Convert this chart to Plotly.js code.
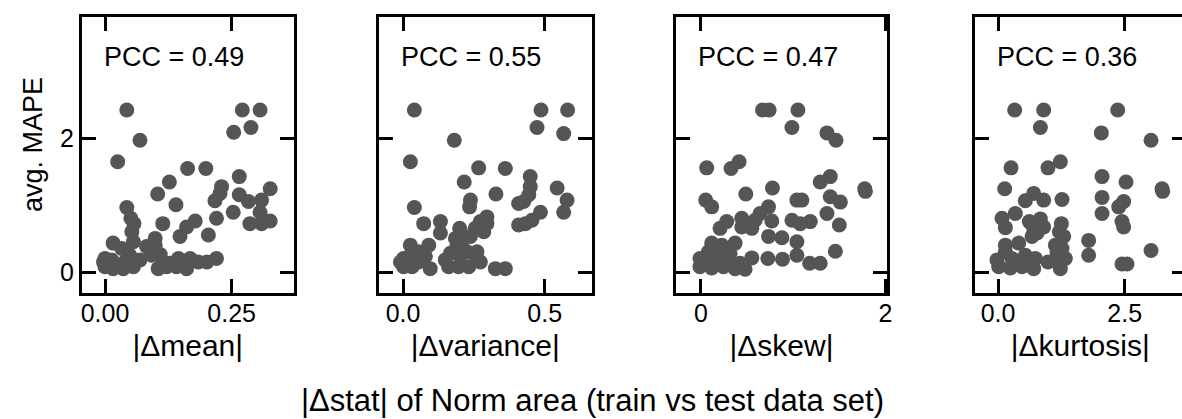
<!DOCTYPE html>
<html>
<head>
<meta charset="utf-8">
<script src="https://cdn.plot.ly/plotly-3.0.1.min.js"></script>
<style>
  html, body { margin: 0; padding: 0; overflow: hidden; background: #fff; }
  #chart { width: 1190px; height: 419px; }
</style>
</head>
<body>
<div id="chart"></div>
<script>
// ---- data ----
const meanX = [0.043,0.271,0.306,0.288,0.254,0.069,0.025,0.163,0.199,0.265,0.127,0.230,0.326,0.104,0.227,0.265,0.283,0.309,0.217,0.043,0.140,0.253,0.306,0.051,0.057,0.178,0.161,0.220,0.114,0.286,0.309,0.326,0.053,0.204,0.148,0.099,0.016,0.056,0.082,0.033,0.000,0.013,0.049,0.069,0.000,0.016,0.036,0.056,0.092,0.109,0.115,0.105,0.128,0.145,0.141,0.161,0.168,0.184,0.201,0.220,-0.003,0.039,0.099,0.092,0.122];
const meanY = [2.42,2.42,2.42,2.16,2.09,1.97,1.65,1.55,1.55,1.43,1.35,1.28,1.25,1.17,1.18,1.16,1.06,1.08,1.07,0.97,1.01,0.90,0.90,0.81,0.73,0.77,0.68,0.81,0.73,0.73,0.73,0.77,0.61,0.56,0.54,0.51,0.44,0.46,0.39,0.36,0.21,0.19,0.26,0.19,0.09,0.06,0.06,0.09,0.26,0.27,0.16,0.06,0.14,0.21,0.09,0.06,0.21,0.16,0.16,0.21,0.16,0.16,0.41,0.34,0.09];

const varX = [0.040,0.487,0.581,0.473,0.567,0.181,0.026,0.267,0.361,0.449,0.216,0.449,0.544,0.328,0.444,0.426,0.408,0.579,0.238,0.235,0.040,0.567,0.485,0.455,0.432,0.408,0.296,0.273,0.073,0.132,0.255,0.285,0.200,0.132,0.238,0.208,0.190,0.026,0.091,0.055,0.002,0.026,0.079,0.002,0.032,0.096,0.161,0.167,0.202,0.226,0.196,0.232,0.261,0.273,0.261,0.326,0.361,-0.009,0.055,0.149,0.185,0.296];
const varY = [2.42,2.42,2.42,2.16,2.07,1.97,1.65,1.56,1.55,1.43,1.35,1.28,1.26,1.17,1.16,1.06,1.03,1.08,1.08,0.98,0.97,0.90,0.90,0.78,0.73,0.71,0.83,0.76,0.73,0.76,0.66,0.61,0.66,0.59,0.54,0.46,0.39,0.41,0.41,0.31,0.21,0.26,0.24,0.09,0.09,0.06,0.09,0.29,0.24,0.31,0.09,0.09,0.21,0.16,0.31,0.06,0.06,0.16,0.16,0.19,0.51,0.73];

const skewX = [0.667,0.739,1.051,0.986,1.366,1.464,0.062,0.326,0.413,1.402,1.293,1.775,1.783,0.775,0.486,1.402,1.511,1.040,1.094,0.051,0.116,0.732,1.366,0.641,1.500,0.279,0.442,0.587,0.768,0.986,1.076,1.185,0.207,0.442,0.551,0.732,0.877,1.040,0.370,0.116,0.225,1.457,-0.011,0.080,0.188,0.315,0.551,0.725,0.884,1.040,1.178,1.293,-0.011,0.116,0.243,0.370,0.478,0.424,0.043,0.279,0.170];
const skewY = [2.42,2.42,2.42,2.16,2.08,1.97,1.56,1.55,1.65,1.43,1.35,1.25,1.21,1.26,1.17,1.13,1.05,1.08,1.08,1.08,0.98,0.98,0.88,0.88,0.71,0.76,0.81,0.78,0.77,0.78,0.73,0.76,0.66,0.68,0.66,0.54,0.52,0.46,0.44,0.44,0.41,0.32,0.21,0.31,0.26,0.29,0.22,0.21,0.20,0.26,0.14,0.14,0.09,0.07,0.09,0.06,0.05,0.14,0.16,0.19,0.16];

const kurtX = [0.329,0.901,2.362,0.836,2.039,3.020,0.257,0.987,1.230,2.053,2.526,3.237,3.250,0.132,0.704,0.539,0.901,1.263,2.053,2.480,2.382,2.053,0.342,0.079,0.618,0.836,1.250,2.447,2.480,0.145,0.704,0.770,1.296,1.211,0.671,1.132,1.789,1.789,0.145,0.408,3.020,2.447,2.546,-0.020,0.276,0.539,0.737,0.013,0.243,0.474,0.704,0.987,1.230,1.329,1.164,1.263,0.145,0.539,1.132,0.901];
const kurtY = [2.42,2.42,2.42,2.16,2.08,1.97,1.56,1.56,1.65,1.43,1.35,1.25,1.21,1.25,1.18,1.07,1.08,1.09,1.12,1.06,0.98,0.88,0.88,0.81,0.76,0.80,0.73,0.76,0.68,0.67,0.66,0.59,0.54,0.61,0.54,0.41,0.48,0.26,0.41,0.44,0.33,0.13,0.13,0.19,0.21,0.26,0.21,0.09,0.07,0.09,0.06,0.16,0.06,0.21,0.31,0.36,0.31,0.16,0.19,0.68];

const panelLabels = ['|Δmean|', '|Δvariance|', '|Δskew|', '|Δkurtosis|'];
const pccValues = ['0.49', '0.55', '0.47', '0.36'];
const xTickVals = [[0, 0.25], [0, 0.5], [0, 2], [0, 2.5]];
const xTickText = [['0.00', '0.25'], ['0.0', '0.5'], ['0', '2'], ['0.0', '2.5']];
const yTickVals = [0, 2];
const yTickText = ['0', '2'];
const yTitle = 'avg. MAPE';
const supXTitle = '|Δstat| of Norm area (train vs test data set)';

// ---- layout geometry ----
const W = 1190, H = 419;
const xs = [meanX, varX, skewX, kurtX];
const ys = [meanY, varY, skewY, kurtY];
const pxDomains = [[82, 293.5], [378.5, 592], [676, 887], [974.5, 1186]];
const xRanges = [[-0.0454, 0.372], [-0.0865, 0.667], [-0.271, 2.017], [-0.464, 3.71]];
const yRange = [-0.295, 3.805];
const yDom = [1 - 292.5 / H, 1 - 17 / H];
const FONT = 'Liberation Sans, Arial, sans-serif';
const markerColor = 'rgb(85,85,85)';

const traces = [];
const layout = {
  width: W, height: H,
  margin: {l: 0, r: 0, t: 0, b: 0},
  paper_bgcolor: '#fff', plot_bgcolor: '#fff',
  showlegend: false,
  font: {family: FONT, color: '#000', size: 25},
  annotations: []
};

for (let i = 0; i < 4; i++) {
  const sx = i === 0 ? '' : String(i + 1);
  traces.push({
    type: 'scatter', mode: 'markers',
    x: xs[i], y: ys[i],
    xaxis: 'x' + sx, yaxis: 'y' + sx,
    marker: {size: 15, color: markerColor, line: {width: 0}},
    hoverinfo: 'skip'
  });
  const common = {
    showline: true, linewidth: 3, linecolor: '#000', mirror: 'ticks',
    ticks: 'inside', ticklen: 14, tickwidth: 3, tickcolor: '#000',
    showgrid: false, zeroline: false, fixedrange: true,
    tickfont: {family: FONT, size: 25, color: '#000'}
  };
  layout['xaxis' + sx] = Object.assign({}, common, {
    domain: [pxDomains[i][0] / W, pxDomains[i][1] / W],
    range: xRanges[i], anchor: 'y' + sx,
    tickmode: 'array', tickvals: xTickVals[i], ticktext: xTickText[i],
    ticklabelstandoff: -4,
    title: {text: panelLabels[i], font: {family: FONT, size: 30, color: '#000'}, standoff: 10}
  });
  layout['yaxis' + sx] = Object.assign({}, common, {
    domain: yDom, range: yRange, anchor: 'x' + sx,
    tickmode: 'array', tickvals: yTickVals, ticktext: yTickText,
    showticklabels: i === 0
  });
  layout.annotations.push({
    xref: 'x' + sx + ' domain', yref: 'y' + sx + ' domain',
    x: 0.095, y: 0.855, xanchor: 'left', yanchor: 'middle',
    text: 'PCC = ' + pccValues[i], showarrow: false,
    font: {family: FONT, size: 27, color: '#000'}
  });
}

layout.annotations.push({
  xref: 'paper', yref: 'paper',
  x: 33 / W, y: 1 - 145 / H, xanchor: 'center', yanchor: 'middle',
  text: yTitle, textangle: -90, showarrow: false,
  font: {family: FONT, size: 27, color: '#000'}
});
layout.annotations.push({
  xref: 'paper', yref: 'paper',
  x: 592 / W, y: 1 - 400 / H, xanchor: 'center', yanchor: 'middle',
  text: supXTitle, showarrow: false,
  font: {family: FONT, size: 31, color: '#000'}
});

Plotly.newPlot('chart', traces, layout, {staticPlot: true, displayModeBar: false});
</script>
</body>
</html>
